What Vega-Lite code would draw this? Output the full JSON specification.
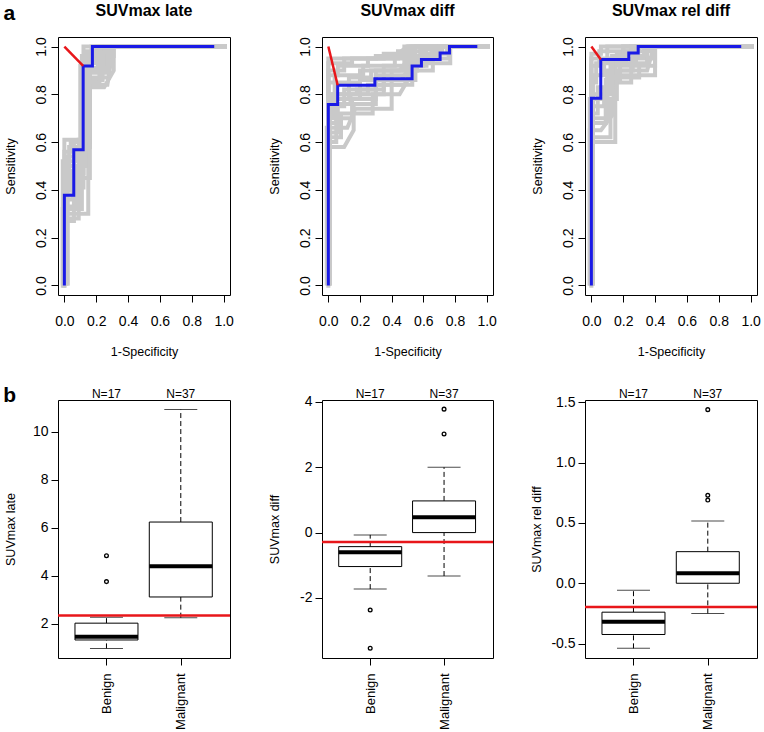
{
"$schema":"https://vega.github.io/schema/vega-lite/v6.json",
"padding":{"left":2,"top":2,"right":4,"bottom":4},
"background":"white",
"datasets":{
"roc_late":[
{"c":"g1","i":0,"x":0,"y":-0.01},{"c":"g1","i":1,"x":0,"y":0.27},{"c":"g1","i":2,"x":0.06,"y":0.27},{"c":"g1","i":3,"x":0.06,"y":0.41},{"c":"g1","i":4,"x":0.12,"y":0.41},{"c":"g1","i":5,"x":0.12,"y":0.86},{"c":"g1","i":6,"x":0.24,"y":0.86},{"c":"g1","i":7,"x":0.24,"y":1},{"c":"g1","i":8,"x":1.02,"y":1},
{"c":"g2","i":0,"x":0,"y":-0.01},{"c":"g2","i":1,"x":0,"y":0.46},{"c":"g2","i":2,"x":0.06,"y":0.46},{"c":"g2","i":3,"x":0.06,"y":0.6},{"c":"g2","i":4,"x":0.16,"y":0.6},{"c":"g2","i":5,"x":0.16,"y":0.95},{"c":"g2","i":6,"x":0.2,"y":0.95},{"c":"g2","i":7,"x":0.2,"y":1},{"c":"g2","i":8,"x":1.02,"y":1},
{"c":"g3","i":0,"x":-0.01,"y":-0.01},{"c":"g3","i":1,"x":-0.01,"y":0.32},{"c":"g3","i":2,"x":0.11,"y":0.32},{"c":"g3","i":3,"x":0.11,"y":0.84},{"c":"g3","i":4,"x":0.27,"y":0.84},{"c":"g3","i":5,"x":0.3,"y":0.97},{"c":"g3","i":6,"x":0.3,"y":1},{"c":"g3","i":7,"x":1.02,"y":1},
{"c":"g4","i":0,"x":0.01,"y":0},{"c":"g4","i":1,"x":0.01,"y":0.54},{"c":"g4","i":2,"x":0.1,"y":0.54},{"c":"g4","i":3,"x":0.1,"y":0.92},{"c":"g4","i":4,"x":0.17,"y":0.92},{"c":"g4","i":5,"x":0.17,"y":1},{"c":"g4","i":6,"x":1.02,"y":1},
{"c":"g5","i":0,"x":0,"y":0},{"c":"g5","i":1,"x":0,"y":0.4},{"c":"g5","i":2,"x":0.03,"y":0.4},{"c":"g5","i":3,"x":0.03,"y":0.58},{"c":"g5","i":4,"x":0.13,"y":0.58},{"c":"g5","i":5,"x":0.13,"y":0.98},{"c":"g5","i":6,"x":0.23,"y":0.98},{"c":"g5","i":7,"x":0.23,"y":1},{"c":"g5","i":8,"x":1.02,"y":1},
{"c":"g6","i":0,"x":0,"y":0},{"c":"g6","i":1,"x":0,"y":0.3},{"c":"g6","i":2,"x":0.15,"y":0.3},{"c":"g6","i":3,"x":0.15,"y":0.87},{"c":"g6","i":4,"x":0.28,"y":0.87},{"c":"g6","i":5,"x":0.28,"y":1},{"c":"g6","i":6,"x":1.02,"y":1},
{"c":"g7","i":0,"x":0.02,"y":0},{"c":"g7","i":1,"x":0.02,"y":0.5},{"c":"g7","i":2,"x":0.14,"y":0.5},{"c":"g7","i":3,"x":0.14,"y":0.9},{"c":"g7","i":4,"x":0.21,"y":0.9},{"c":"g7","i":5,"x":0.21,"y":1},{"c":"g7","i":6,"x":1.02,"y":1},
{"c":"g8","i":0,"x":0,"y":0},{"c":"g8","i":1,"x":0,"y":0.36},{"c":"g8","i":2,"x":0.05,"y":0.36},{"c":"g8","i":3,"x":0.05,"y":0.48},{"c":"g8","i":4,"x":0.11,"y":0.48},{"c":"g8","i":5,"x":0.11,"y":0.96},{"c":"g8","i":6,"x":0.18,"y":0.96},{"c":"g8","i":7,"x":0.18,"y":1},{"c":"g8","i":8,"x":1.02,"y":1},
{"c":"g9","i":0,"x":0,"y":0},{"c":"g9","i":1,"x":0,"y":0.61},{"c":"g9","i":2,"x":0.12,"y":0.61},{"c":"g9","i":3,"x":0.12,"y":0.93},{"c":"g9","i":4,"x":0.3,"y":0.93},{"c":"g9","i":5,"x":0.3,"y":1},{"c":"g9","i":6,"x":1.02,"y":1},
{"c":"g10","i":0,"x":-0.01,"y":0},{"c":"g10","i":1,"x":-0.01,"y":0.52},{"c":"g10","i":2,"x":0.08,"y":0.52},{"c":"g10","i":3,"x":0.08,"y":0.56},{"c":"g10","i":4,"x":0.15,"y":0.56},{"c":"g10","i":5,"x":0.15,"y":0.83},{"c":"g10","i":6,"x":0.25,"y":0.83},{"c":"g10","i":7,"x":0.31,"y":0.9},{"c":"g10","i":8,"x":0.31,"y":1},{"c":"g10","i":9,"x":1.02,"y":1},
{"c":"g11","i":0,"x":0.02,"y":0},{"c":"g11","i":1,"x":0.02,"y":0.28},{"c":"g11","i":2,"x":0.09,"y":0.28},{"c":"g11","i":3,"x":0.09,"y":0.45},{"c":"g11","i":4,"x":0.16,"y":0.45},{"c":"g11","i":5,"x":0.16,"y":0.89},{"c":"g11","i":6,"x":0.26,"y":0.89},{"c":"g11","i":7,"x":0.26,"y":1},{"c":"g11","i":8,"x":1.02,"y":1},
{"c":"g12","i":0,"x":0,"y":0},{"c":"g12","i":1,"x":0,"y":0.56},{"c":"g12","i":2,"x":0.04,"y":0.56},{"c":"g12","i":3,"x":0.04,"y":0.6},{"c":"g12","i":4,"x":0.14,"y":0.6},{"c":"g12","i":5,"x":0.14,"y":0.97},{"c":"g12","i":6,"x":0.25,"y":0.97},{"c":"g12","i":7,"x":0.25,"y":1},{"c":"g12","i":8,"x":1.02,"y":1},
{"c":"g13","i":0,"x":0,"y":0},{"c":"g13","i":1,"x":0,"y":0.33},{"c":"g13","i":2,"x":0.07,"y":0.33},{"c":"g13","i":3,"x":0.07,"y":0.5},{"c":"g13","i":4,"x":0.13,"y":0.5},{"c":"g13","i":5,"x":0.13,"y":0.94},{"c":"g13","i":6,"x":0.3,"y":0.94},{"c":"g13","i":7,"x":0.3,"y":1},{"c":"g13","i":8,"x":1.02,"y":1},
{"c":"g14","i":0,"x":0.01,"y":0},{"c":"g14","i":1,"x":0.01,"y":0.42},{"c":"g14","i":2,"x":0.1,"y":0.42},{"c":"g14","i":3,"x":0.1,"y":0.58},{"c":"g14","i":4,"x":0.16,"y":0.58},{"c":"g14","i":5,"x":0.16,"y":0.85},{"c":"g14","i":6,"x":0.22,"y":0.85},{"c":"g14","i":7,"x":0.22,"y":1},{"c":"g14","i":8,"x":1.02,"y":1},
{"c":"g15","i":0,"x":0,"y":0},{"c":"g15","i":1,"x":0,"y":0.3},{"c":"g15","i":2,"x":0.02,"y":0.3},{"c":"g15","i":3,"x":0.02,"y":0.47},{"c":"g15","i":4,"x":0.12,"y":0.47},{"c":"g15","i":5,"x":0.12,"y":1},{"c":"g15","i":6,"x":1.02,"y":1},
{"c":"g16","i":0,"x":0,"y":0},{"c":"g16","i":1,"x":0,"y":0.38},{"c":"g16","i":2,"x":0.09,"y":0.38},{"c":"g16","i":3,"x":0.09,"y":0.61},{"c":"g16","i":4,"x":0.15,"y":0.61},{"c":"g16","i":5,"x":0.15,"y":0.91},{"c":"g16","i":6,"x":0.27,"y":0.91},{"c":"g16","i":7,"x":0.27,"y":0.96},{"c":"g16","i":8,"x":0.31,"y":0.96},{"c":"g16","i":9,"x":0.31,"y":1},{"c":"g16","i":10,"x":1.02,"y":1},
{"c":"roc","i":0,"x":0,"y":0},{"c":"roc","i":1,"x":0,"y":0.378},{"c":"roc","i":2,"x":0.059,"y":0.378},{"c":"roc","i":3,"x":0.059,"y":0.568},{"c":"roc","i":4,"x":0.118,"y":0.568},{"c":"roc","i":5,"x":0.118,"y":0.919},{"c":"roc","i":6,"x":0.176,"y":0.919},{"c":"roc","i":7,"x":0.176,"y":1},{"c":"roc","i":8,"x":0.941,"y":1},
{"c":"cut","i":0,"x":0,"y":1},{"c":"cut","i":1,"x":0.118,"y":0.919}
],
"roc_diff":[
{"c":"h1","i":0,"x":0,"y":-0.01},{"c":"h1","i":1,"x":0,"y":0.6},{"c":"h1","i":2,"x":0.05,"y":0.6},{"c":"h1","i":3,"x":0.05,"y":0.7},{"c":"h1","i":4,"x":0.15,"y":0.7},{"c":"h1","i":5,"x":0.15,"y":0.78},{"c":"h1","i":6,"x":0.3,"y":0.78},{"c":"h1","i":7,"x":0.3,"y":0.88},{"c":"h1","i":8,"x":0.5,"y":0.88},{"c":"h1","i":9,"x":0.5,"y":1},{"c":"h1","i":10,"x":1.02,"y":1},
{"c":"h2","i":0,"x":0,"y":0},{"c":"h2","i":1,"x":0,"y":0.95},{"c":"h2","i":2,"x":0.48,"y":0.95},{"c":"h2","i":3,"x":0.48,"y":1},{"c":"h2","i":4,"x":1.02,"y":1},
{"c":"h3","i":0,"x":0,"y":0},{"c":"h3","i":1,"x":0,"y":0.75},{"c":"h3","i":2,"x":0.1,"y":0.75},{"c":"h3","i":3,"x":0.1,"y":0.82},{"c":"h3","i":4,"x":0.35,"y":0.82},{"c":"h3","i":5,"x":0.35,"y":0.92},{"c":"h3","i":6,"x":0.6,"y":0.92},{"c":"h3","i":7,"x":0.6,"y":0.97},{"c":"h3","i":8,"x":0.75,"y":0.97},{"c":"h3","i":9,"x":0.75,"y":1},{"c":"h3","i":10,"x":1.02,"y":1},
{"c":"h4","i":0,"x":0,"y":0},{"c":"h4","i":1,"x":0,"y":0.85},{"c":"h4","i":2,"x":0.2,"y":0.85},{"c":"h4","i":3,"x":0.2,"y":0.9},{"c":"h4","i":4,"x":0.45,"y":0.9},{"c":"h4","i":5,"x":0.52,"y":0.96},{"c":"h4","i":6,"x":0.7,"y":0.96},{"c":"h4","i":7,"x":0.7,"y":1},{"c":"h4","i":8,"x":1.02,"y":1},
{"c":"h5","i":0,"x":-0.01,"y":0},{"c":"h5","i":1,"x":-0.01,"y":0.66},{"c":"h5","i":2,"x":0.12,"y":0.66},{"c":"h5","i":3,"x":0.17,"y":0.74},{"c":"h5","i":4,"x":0.4,"y":0.74},{"c":"h5","i":5,"x":0.4,"y":0.86},{"c":"h5","i":6,"x":0.55,"y":0.86},{"c":"h5","i":7,"x":0.55,"y":0.93},{"c":"h5","i":8,"x":0.77,"y":0.93},{"c":"h5","i":9,"x":0.77,"y":1},{"c":"h5","i":10,"x":1.02,"y":1},
{"c":"h6","i":0,"x":0.01,"y":0},{"c":"h6","i":1,"x":0.01,"y":0.8},{"c":"h6","i":2,"x":0.25,"y":0.8},{"c":"h6","i":3,"x":0.25,"y":0.84},{"c":"h6","i":4,"x":0.53,"y":0.84},{"c":"h6","i":5,"x":0.53,"y":0.9},{"c":"h6","i":6,"x":0.66,"y":0.9},{"c":"h6","i":7,"x":0.66,"y":0.98},{"c":"h6","i":8,"x":0.72,"y":0.98},{"c":"h6","i":9,"x":0.72,"y":1},{"c":"h6","i":10,"x":1.02,"y":1},
{"c":"h7","i":0,"x":0,"y":0},{"c":"h7","i":1,"x":0,"y":0.62},{"c":"h7","i":2,"x":0.08,"y":0.62},{"c":"h7","i":3,"x":0.08,"y":0.72},{"c":"h7","i":4,"x":0.28,"y":0.72},{"c":"h7","i":5,"x":0.28,"y":0.8},{"c":"h7","i":6,"x":0.45,"y":0.8},{"c":"h7","i":7,"x":0.52,"y":0.88},{"c":"h7","i":8,"x":0.52,"y":0.94},{"c":"h7","i":9,"x":0.65,"y":0.94},{"c":"h7","i":10,"x":0.65,"y":1},{"c":"h7","i":11,"x":1.02,"y":1},
{"c":"h8","i":0,"x":0,"y":0},{"c":"h8","i":1,"x":0,"y":0.9},{"c":"h8","i":2,"x":0.1,"y":0.9},{"c":"h8","i":3,"x":0.1,"y":0.95},{"c":"h8","i":4,"x":0.35,"y":0.95},{"c":"h8","i":5,"x":0.35,"y":0.97},{"c":"h8","i":6,"x":0.55,"y":0.97},{"c":"h8","i":7,"x":0.55,"y":1},{"c":"h8","i":8,"x":1.02,"y":1},
{"c":"h9","i":0,"x":0,"y":0},{"c":"h9","i":1,"x":0,"y":0.72},{"c":"h9","i":2,"x":0.04,"y":0.72},{"c":"h9","i":3,"x":0.04,"y":0.88},{"c":"h9","i":4,"x":0.22,"y":0.88},{"c":"h9","i":5,"x":0.22,"y":0.92},{"c":"h9","i":6,"x":0.42,"y":0.92},{"c":"h9","i":7,"x":0.42,"y":0.96},{"c":"h9","i":8,"x":0.5,"y":1},{"c":"h9","i":9,"x":1.02,"y":1},
{"c":"h10","i":0,"x":0,"y":0},{"c":"h10","i":1,"x":0,"y":0.58},{"c":"h10","i":2,"x":0.1,"y":0.58},{"c":"h10","i":3,"x":0.16,"y":0.65},{"c":"h10","i":4,"x":0.16,"y":0.76},{"c":"h10","i":5,"x":0.3,"y":0.76},{"c":"h10","i":6,"x":0.3,"y":0.84},{"c":"h10","i":7,"x":0.48,"y":0.84},{"c":"h10","i":8,"x":0.53,"y":0.9},{"c":"h10","i":9,"x":0.53,"y":1},{"c":"h10","i":10,"x":1.02,"y":1},
{"c":"h11","i":0,"x":0,"y":0},{"c":"h11","i":1,"x":0,"y":0.68},{"c":"h11","i":2,"x":0.05,"y":0.68},{"c":"h11","i":3,"x":0.05,"y":0.78},{"c":"h11","i":4,"x":0.2,"y":0.78},{"c":"h11","i":5,"x":0.2,"y":0.86},{"c":"h11","i":6,"x":0.4,"y":0.86},{"c":"h11","i":7,"x":0.4,"y":0.9},{"c":"h11","i":8,"x":0.5,"y":0.9},{"c":"h11","i":9,"x":0.5,"y":0.96},{"c":"h11","i":10,"x":0.6,"y":0.96},{"c":"h11","i":11,"x":0.6,"y":1},{"c":"h11","i":12,"x":1.02,"y":1},
{"c":"h12","i":0,"x":0,"y":0},{"c":"h12","i":1,"x":0,"y":0.93},{"c":"h12","i":2,"x":0.15,"y":0.93},{"c":"h12","i":3,"x":0.15,"y":0.95},{"c":"h12","i":4,"x":0.3,"y":0.95},{"c":"h12","i":5,"x":0.3,"y":0.96},{"c":"h12","i":6,"x":0.5,"y":0.96},{"c":"h12","i":7,"x":0.5,"y":0.98},{"c":"h12","i":8,"x":0.62,"y":0.98},{"c":"h12","i":9,"x":0.62,"y":1},{"c":"h12","i":10,"x":1.02,"y":1},
{"c":"h13","i":0,"x":0,"y":0},{"c":"h13","i":1,"x":0,"y":0.78},{"c":"h13","i":2,"x":0.13,"y":0.78},{"c":"h13","i":3,"x":0.13,"y":0.87},{"c":"h13","i":4,"x":0.27,"y":0.87},{"c":"h13","i":5,"x":0.27,"y":0.9},{"c":"h13","i":6,"x":0.48,"y":0.9},{"c":"h13","i":7,"x":0.48,"y":0.95},{"c":"h13","i":8,"x":0.58,"y":0.95},{"c":"h13","i":9,"x":0.58,"y":0.99},{"c":"h13","i":10,"x":0.7,"y":0.99},{"c":"h13","i":11,"x":0.7,"y":1},{"c":"h13","i":12,"x":1.02,"y":1},
{"c":"h14","i":0,"x":0.01,"y":0},{"c":"h14","i":1,"x":0.01,"y":0.64},{"c":"h14","i":2,"x":0.06,"y":0.64},{"c":"h14","i":3,"x":0.06,"y":0.76},{"c":"h14","i":4,"x":0.14,"y":0.76},{"c":"h14","i":5,"x":0.14,"y":0.8},{"c":"h14","i":6,"x":0.35,"y":0.8},{"c":"h14","i":7,"x":0.35,"y":0.86},{"c":"h14","i":8,"x":0.46,"y":0.86},{"c":"h14","i":9,"x":0.52,"y":0.92},{"c":"h14","i":10,"x":0.62,"y":0.92},{"c":"h14","i":11,"x":0.62,"y":0.95},{"c":"h14","i":12,"x":0.76,"y":0.95},{"c":"h14","i":13,"x":0.76,"y":1},{"c":"h14","i":14,"x":1.02,"y":1},
{"c":"h15","i":0,"x":0,"y":0},{"c":"h15","i":1,"x":0,"y":0.88},{"c":"h15","i":2,"x":0.06,"y":0.88},{"c":"h15","i":3,"x":0.06,"y":0.92},{"c":"h15","i":4,"x":0.25,"y":0.92},{"c":"h15","i":5,"x":0.25,"y":0.95},{"c":"h15","i":6,"x":0.44,"y":0.95},{"c":"h15","i":7,"x":0.44,"y":0.98},{"c":"h15","i":8,"x":0.52,"y":0.98},{"c":"h15","i":9,"x":0.52,"y":1},{"c":"h15","i":10,"x":1.02,"y":1},
{"c":"h16","i":0,"x":0,"y":0},{"c":"h16","i":1,"x":0,"y":0.7},{"c":"h16","i":2,"x":0.03,"y":0.7},{"c":"h16","i":3,"x":0.03,"y":0.8},{"c":"h16","i":4,"x":0.18,"y":0.8},{"c":"h16","i":5,"x":0.18,"y":0.82},{"c":"h16","i":6,"x":0.3,"y":0.82},{"c":"h16","i":7,"x":0.3,"y":0.9},{"c":"h16","i":8,"x":0.56,"y":0.9},{"c":"h16","i":9,"x":0.56,"y":0.95},{"c":"h16","i":10,"x":0.68,"y":0.95},{"c":"h16","i":11,"x":0.68,"y":1},{"c":"h16","i":12,"x":1.02,"y":1},
{"c":"roc","i":0,"x":0,"y":0},{"c":"roc","i":1,"x":0,"y":0.757},{"c":"roc","i":2,"x":0.059,"y":0.757},{"c":"roc","i":3,"x":0.059,"y":0.838},{"c":"roc","i":4,"x":0.294,"y":0.838},{"c":"roc","i":5,"x":0.294,"y":0.865},{"c":"roc","i":6,"x":0.529,"y":0.865},{"c":"roc","i":7,"x":0.529,"y":0.919},{"c":"roc","i":8,"x":0.588,"y":0.919},{"c":"roc","i":9,"x":0.588,"y":0.946},{"c":"roc","i":10,"x":0.706,"y":0.946},{"c":"roc","i":11,"x":0.706,"y":0.973},{"c":"roc","i":12,"x":0.765,"y":0.973},{"c":"roc","i":13,"x":0.765,"y":1},{"c":"roc","i":14,"x":0.941,"y":1},
{"c":"cut","i":0,"x":0,"y":1},{"c":"cut","i":1,"x":0.059,"y":0.838}
],
"roc_rel":[
{"c":"k1","i":0,"x":0,"y":-0.01},{"c":"k1","i":1,"x":0,"y":0.6},{"c":"k1","i":2,"x":0.15,"y":0.6},{"c":"k1","i":3,"x":0.15,"y":0.85},{"c":"k1","i":4,"x":0.25,"y":0.85},{"c":"k1","i":5,"x":0.25,"y":0.95},{"c":"k1","i":6,"x":0.38,"y":0.95},{"c":"k1","i":7,"x":0.38,"y":1},{"c":"k1","i":8,"x":1.02,"y":1},
{"c":"k2","i":0,"x":0,"y":0},{"c":"k2","i":1,"x":0,"y":0.92},{"c":"k2","i":2,"x":0.05,"y":0.92},{"c":"k2","i":3,"x":0.05,"y":0.98},{"c":"k2","i":4,"x":0.3,"y":0.98},{"c":"k2","i":5,"x":0.3,"y":1},{"c":"k2","i":6,"x":1.02,"y":1},
{"c":"k3","i":0,"x":0,"y":0},{"c":"k3","i":1,"x":0,"y":0.7},{"c":"k3","i":2,"x":0.1,"y":0.7},{"c":"k3","i":3,"x":0.1,"y":0.9},{"c":"k3","i":4,"x":0.35,"y":0.9},{"c":"k3","i":5,"x":0.38,"y":0.97},{"c":"k3","i":6,"x":0.38,"y":1},{"c":"k3","i":7,"x":1.02,"y":1},
{"c":"k4","i":0,"x":0.01,"y":0},{"c":"k4","i":1,"x":0.01,"y":0.8},{"c":"k4","i":2,"x":0.12,"y":0.8},{"c":"k4","i":3,"x":0.12,"y":0.95},{"c":"k4","i":4,"x":0.2,"y":0.95},{"c":"k4","i":5,"x":0.2,"y":1},{"c":"k4","i":6,"x":1.02,"y":1},
{"c":"k5","i":0,"x":-0.01,"y":0},{"c":"k5","i":1,"x":-0.01,"y":0.65},{"c":"k5","i":2,"x":0.06,"y":0.65},{"c":"k5","i":3,"x":0.14,"y":0.72},{"c":"k5","i":4,"x":0.14,"y":0.88},{"c":"k5","i":5,"x":0.4,"y":0.88},{"c":"k5","i":6,"x":0.4,"y":1},{"c":"k5","i":7,"x":1.02,"y":1},
{"c":"k6","i":0,"x":0,"y":0},{"c":"k6","i":1,"x":0,"y":0.85},{"c":"k6","i":2,"x":0.03,"y":0.85},{"c":"k6","i":3,"x":0.03,"y":0.93},{"c":"k6","i":4,"x":0.16,"y":0.93},{"c":"k6","i":5,"x":0.16,"y":0.97},{"c":"k6","i":6,"x":0.25,"y":0.97},{"c":"k6","i":7,"x":0.25,"y":1},{"c":"k6","i":8,"x":1.02,"y":1},
{"c":"k7","i":0,"x":0,"y":0},{"c":"k7","i":1,"x":0,"y":0.75},{"c":"k7","i":2,"x":0.08,"y":0.75},{"c":"k7","i":3,"x":0.08,"y":0.82},{"c":"k7","i":4,"x":0.15,"y":0.82},{"c":"k7","i":5,"x":0.15,"y":0.92},{"c":"k7","i":6,"x":0.28,"y":0.92},{"c":"k7","i":7,"x":0.28,"y":1},{"c":"k7","i":8,"x":1.02,"y":1},
{"c":"k8","i":0,"x":0,"y":0},{"c":"k8","i":1,"x":0,"y":0.95},{"c":"k8","i":2,"x":0.1,"y":0.95},{"c":"k8","i":3,"x":0.1,"y":1},{"c":"k8","i":4,"x":1.02,"y":1},
{"c":"k9","i":0,"x":0,"y":0},{"c":"k9","i":1,"x":0,"y":0.62},{"c":"k9","i":2,"x":0.12,"y":0.62},{"c":"k9","i":3,"x":0.12,"y":0.78},{"c":"k9","i":4,"x":0.16,"y":0.78},{"c":"k9","i":5,"x":0.16,"y":0.9},{"c":"k9","i":6,"x":0.26,"y":0.9},{"c":"k9","i":7,"x":0.26,"y":0.96},{"c":"k9","i":8,"x":0.33,"y":0.96},{"c":"k9","i":9,"x":0.33,"y":1},{"c":"k9","i":10,"x":1.02,"y":1},
{"c":"k10","i":0,"x":0,"y":0},{"c":"k10","i":1,"x":0,"y":0.68},{"c":"k10","i":2,"x":0.09,"y":0.68},{"c":"k10","i":3,"x":0.09,"y":0.86},{"c":"k10","i":4,"x":0.18,"y":0.86},{"c":"k10","i":5,"x":0.18,"y":0.93},{"c":"k10","i":6,"x":0.35,"y":0.93},{"c":"k10","i":7,"x":0.35,"y":1},{"c":"k10","i":8,"x":1.02,"y":1},
{"c":"k11","i":0,"x":0.01,"y":0},{"c":"k11","i":1,"x":0.01,"y":0.88},{"c":"k11","i":2,"x":0.08,"y":0.88},{"c":"k11","i":3,"x":0.08,"y":0.94},{"c":"k11","i":4,"x":0.22,"y":0.94},{"c":"k11","i":5,"x":0.22,"y":0.98},{"c":"k11","i":6,"x":0.36,"y":0.98},{"c":"k11","i":7,"x":0.36,"y":1},{"c":"k11","i":8,"x":1.02,"y":1},
{"c":"k12","i":0,"x":0,"y":0},{"c":"k12","i":1,"x":0,"y":0.72},{"c":"k12","i":2,"x":0.04,"y":0.72},{"c":"k12","i":3,"x":0.04,"y":0.83},{"c":"k12","i":4,"x":0.13,"y":0.83},{"c":"k12","i":5,"x":0.13,"y":0.96},{"c":"k12","i":6,"x":0.2,"y":0.96},{"c":"k12","i":7,"x":0.2,"y":1},{"c":"k12","i":8,"x":1.02,"y":1},
{"c":"k13","i":0,"x":0,"y":0},{"c":"k13","i":1,"x":0,"y":0.97},{"c":"k13","i":2,"x":0.06,"y":0.97},{"c":"k13","i":3,"x":0.06,"y":1},{"c":"k13","i":4,"x":1.02,"y":1},
{"c":"k14","i":0,"x":-0.01,"y":0},{"c":"k14","i":1,"x":-0.01,"y":0.78},{"c":"k14","i":2,"x":0.1,"y":0.78},{"c":"k14","i":3,"x":0.1,"y":0.87},{"c":"k14","i":4,"x":0.3,"y":0.87},{"c":"k14","i":5,"x":0.3,"y":0.92},{"c":"k14","i":6,"x":0.4,"y":0.92},{"c":"k14","i":7,"x":0.4,"y":1},{"c":"k14","i":8,"x":1.02,"y":1},
{"c":"roc","i":0,"x":0,"y":0},{"c":"roc","i":1,"x":0,"y":0.784},{"c":"roc","i":2,"x":0.059,"y":0.784},{"c":"roc","i":3,"x":0.059,"y":0.946},{"c":"roc","i":4,"x":0.235,"y":0.946},{"c":"roc","i":5,"x":0.235,"y":0.973},{"c":"roc","i":6,"x":0.294,"y":0.973},{"c":"roc","i":7,"x":0.294,"y":1},{"c":"roc","i":8,"x":0.941,"y":1},
{"c":"cut","i":0,"x":0,"y":1},{"c":"cut","i":1,"x":0.059,"y":0.946}
],
"box":[
{"p":"late","g":1,"n":"N=17","lo":0.98,"q1":1.33,"med":1.46,"q3":2.03,"hi":2.28},
{"p":"late","g":2,"n":"N=37","lo":2.26,"q1":3.12,"med":4.4,"q3":6.24,"hi":10.92},
{"p":"diff","g":1,"n":"N=17","lo":-1.73,"q1":-1.04,"med":-0.6,"q3":-0.43,"hi":-0.07},
{"p":"diff","g":2,"n":"N=37","lo":-1.33,"q1":0.0,"med":0.47,"q3":0.97,"hi":2.0},
{"p":"rel","g":1,"n":"N=17","lo":-0.54,"q1":-0.425,"med":-0.32,"q3":-0.24,"hi":-0.058},
{"p":"rel","g":2,"n":"N=37","lo":-0.25,"q1":0.0,"med":0.083,"q3":0.262,"hi":0.517}
],
"out":[
{"p":"late","g":1,"v":3.76},{"p":"late","g":1,"v":4.84},
{"p":"diff","g":1,"v":-2.37},{"p":"diff","g":1,"v":-3.54},{"p":"diff","g":2,"v":3.02},{"p":"diff","g":2,"v":3.78},
{"p":"rel","g":2,"v":1.44},{"p":"rel","g":2,"v":0.73},{"p":"rel","g":2,"v":0.69}
],
"cut":[{"p":"late","v":2.35},{"p":"diff","v":-0.29},{"p":"rel","v":-0.196}],
"titles":[{"p":"late","t":"SUVmax late"},{"p":"diff","t":"SUVmax diff"},{"p":"rel","t":"SUVmax rel diff"}],
"lab":[{"t":"x"}]
},
"columns":3,
"spacing":{"row":105,"column":92},
"bounds":"flush",
"concat":[
{"width":172,"height":258,
"layer":[
{"data":{"name":"roc_late"},
"encoding":{
"x":{"field":"x","type":"quantitative","scale":{"domain":[-0.04,1.04],"nice":false,"zero":false},"axis":{"values":[0,0.2,0.4,0.6,0.8,1],"format":".1f","title":"1-Specificity","labelPadding":12,"titlePadding":17,"labelOverlap":false}},
"y":{"field":"y","type":"quantitative","scale":{"domain":[-0.04,1.04],"nice":false,"zero":false},"axis":{"values":[0,0.2,0.4,0.6,0.8,1],"format":".1f","title":"Sensitivity","labelAngle":-90,"labelAlign":"center","labelBaseline":"bottom","labelPadding":3,"titlePadding":17,"labelOverlap":false}},
"order":{"field":"i","type":"quantitative"}},
"layer":[
{"transform":[{"filter":"datum.c!='roc'&&datum.c!='cut'"}],"mark":{"type":"line","color":"#c9c9c9","strokeWidth":4,"clip":true},"encoding":{"detail":{"field":"c","type":"nominal"}}},
{"transform":[{"filter":"datum.c=='roc'"}],"mark":{"type":"line","color":"#1a1ae6","strokeWidth":3}},
{"transform":[{"filter":"datum.c=='cut'"}],"mark":{"type":"line","color":"#e8161a","strokeWidth":2.5}}
]},
{"data":{"name":"titles"},"transform":[{"filter":"datum.p=='late'"}],"mark":{"type":"text","fontSize":16,"fontWeight":"bold","align":"center","baseline":"alphabetic","color":"black"},"encoding":{"x":{"datum":0.5,"type":"quantitative","axis":{"values":[0,0.2,0.4,0.6,0.8,1],"format":".1f","title":"1-Specificity","labelPadding":12,"titlePadding":17,"labelOverlap":false}},"y":{"datum":1.126,"type":"quantitative","axis":{"values":[0,0.2,0.4,0.6,0.8,1],"format":".1f","title":"Sensitivity","labelAngle":-90,"labelAlign":"center","labelBaseline":"bottom","labelPadding":3,"titlePadding":17,"labelOverlap":false}},"text":{"field":"t"}}},
{"data":{"name":"lab"},"mark":{"type":"text","text":"a","fontSize":21,"fontWeight":"bold","align":"left","baseline":"alphabetic","color":"black"},"encoding":{"x":{"datum":-0.382,"type":"quantitative","axis":{"values":[0,0.2,0.4,0.6,0.8,1],"format":".1f","title":"1-Specificity","labelPadding":12,"titlePadding":17,"labelOverlap":false}},"y":{"datum":1.111,"type":"quantitative","axis":{"values":[0,0.2,0.4,0.6,0.8,1],"format":".1f","title":"Sensitivity","labelAngle":-90,"labelAlign":"center","labelBaseline":"bottom","labelPadding":3,"titlePadding":17,"labelOverlap":false}}}}
]},
{"width":171,"height":258,
"layer":[
{"data":{"name":"roc_diff"},
"encoding":{
"x":{"field":"x","type":"quantitative","scale":{"domain":[-0.04,1.04],"nice":false,"zero":false},"axis":{"values":[0,0.2,0.4,0.6,0.8,1],"format":".1f","title":"1-Specificity","labelPadding":12,"titlePadding":17,"labelOverlap":false}},
"y":{"field":"y","type":"quantitative","scale":{"domain":[-0.04,1.04],"nice":false,"zero":false},"axis":{"values":[0,0.2,0.4,0.6,0.8,1],"format":".1f","title":"Sensitivity","labelAngle":-90,"labelAlign":"center","labelBaseline":"bottom","labelPadding":3,"titlePadding":17,"labelOverlap":false}},
"order":{"field":"i","type":"quantitative"}},
"layer":[
{"transform":[{"filter":"datum.c!='roc'&&datum.c!='cut'"}],"mark":{"type":"line","color":"#c9c9c9","strokeWidth":4,"clip":true},"encoding":{"detail":{"field":"c","type":"nominal"}}},
{"transform":[{"filter":"datum.c=='roc'"}],"mark":{"type":"line","color":"#1a1ae6","strokeWidth":3}},
{"transform":[{"filter":"datum.c=='cut'"}],"mark":{"type":"line","color":"#e8161a","strokeWidth":2.5}}
]},
{"data":{"name":"titles"},"transform":[{"filter":"datum.p=='diff'"}],"mark":{"type":"text","fontSize":16,"fontWeight":"bold","align":"center","baseline":"alphabetic","color":"black"},"encoding":{"x":{"datum":0.5,"type":"quantitative","axis":{"values":[0,0.2,0.4,0.6,0.8,1],"format":".1f","title":"1-Specificity","labelPadding":12,"titlePadding":17,"labelOverlap":false}},"y":{"datum":1.126,"type":"quantitative","axis":{"values":[0,0.2,0.4,0.6,0.8,1],"format":".1f","title":"Sensitivity","labelAngle":-90,"labelAlign":"center","labelBaseline":"bottom","labelPadding":3,"titlePadding":17,"labelOverlap":false}},"text":{"field":"t"}}}
]},
{"width":172,"height":258,
"layer":[
{"data":{"name":"roc_rel"},
"encoding":{
"x":{"field":"x","type":"quantitative","scale":{"domain":[-0.04,1.04],"nice":false,"zero":false},"axis":{"values":[0,0.2,0.4,0.6,0.8,1],"format":".1f","title":"1-Specificity","labelPadding":12,"titlePadding":17,"labelOverlap":false}},
"y":{"field":"y","type":"quantitative","scale":{"domain":[-0.04,1.04],"nice":false,"zero":false},"axis":{"values":[0,0.2,0.4,0.6,0.8,1],"format":".1f","title":"Sensitivity","labelAngle":-90,"labelAlign":"center","labelBaseline":"bottom","labelPadding":3,"titlePadding":17,"labelOverlap":false}},
"order":{"field":"i","type":"quantitative"}},
"layer":[
{"transform":[{"filter":"datum.c!='roc'&&datum.c!='cut'"}],"mark":{"type":"line","color":"#c9c9c9","strokeWidth":4,"clip":true},"encoding":{"detail":{"field":"c","type":"nominal"}}},
{"transform":[{"filter":"datum.c=='roc'"}],"mark":{"type":"line","color":"#1a1ae6","strokeWidth":3}},
{"transform":[{"filter":"datum.c=='cut'"}],"mark":{"type":"line","color":"#e8161a","strokeWidth":2.5}}
]},
{"data":{"name":"titles"},"transform":[{"filter":"datum.p=='rel'"}],"mark":{"type":"text","fontSize":16,"fontWeight":"bold","align":"center","baseline":"alphabetic","color":"black"},"encoding":{"x":{"datum":0.5,"type":"quantitative","axis":{"values":[0,0.2,0.4,0.6,0.8,1],"format":".1f","title":"1-Specificity","labelPadding":12,"titlePadding":17,"labelOverlap":false}},"y":{"datum":1.126,"type":"quantitative","axis":{"values":[0,0.2,0.4,0.6,0.8,1],"format":".1f","title":"Sensitivity","labelAngle":-90,"labelAlign":"center","labelBaseline":"bottom","labelPadding":3,"titlePadding":17,"labelOverlap":false}},"text":{"field":"t"}}}
]},
{"width":172,"height":258,
"layer":[
{"data":{"name":"box"},"transform":[{"filter":"datum.p=='late'"}],
"encoding":{"x":{"field":"g","type":"quantitative","scale":{"domain":[0.415,2.595],"nice":false,"zero":false},"axis":{"values":[1,2],"labelExpr":"datum.value==1?'Benign':'Malignant'","labelAngle":-90,"labelFontSize":13,"labelPadding":8,"title":null,"labelOverlap":false}}},
"layer":[
{"mark":{"type":"rule","color":"black","strokeDash":[5,3]},"encoding":{"y":{"field":"q3","type":"quantitative","scale":{"domain":[0.58,11.32],"nice":false,"zero":false},"axis":{"values":[2,4,6,8,10],"title":"SUVmax late","labelPadding":3,"titlePadding":15,"labelOverlap":false}},"y2":{"field":"hi"}}},
{"mark":{"type":"rule","color":"black","strokeDash":[5,3]},"encoding":{"y":{"field":"lo","type":"quantitative"},"y2":{"field":"q1"}}},
{"mark":{"type":"tick","orient":"horizontal","color":"black","size":33,"thickness":1},"encoding":{"y":{"field":"hi","type":"quantitative"}}},
{"mark":{"type":"tick","orient":"horizontal","color":"black","size":33,"thickness":1},"encoding":{"y":{"field":"lo","type":"quantitative"}}},
{"mark":{"type":"bar","size":63,"fill":"white","stroke":"black","strokeWidth":1},"encoding":{"y":{"field":"q1","type":"quantitative"},"y2":{"field":"q3"}}},
{"mark":{"type":"tick","orient":"horizontal","color":"black","size":63,"thickness":4,"opacity":1},"encoding":{"y":{"field":"med","type":"quantitative"}}},
{"mark":{"type":"text","fontSize":12,"dy":-2.5,"baseline":"alphabetic","color":"black"},"encoding":{"y":{"datum":11.32},"text":{"field":"n"}}}
]},
{"data":{"name":"out"},"transform":[{"filter":"datum.p=='late'"}],"mark":{"type":"point","shape":"circle","size":14,"filled":false,"stroke":"black","strokeWidth":1.3,"opacity":1},"encoding":{"x":{"field":"g","type":"quantitative"},"y":{"field":"v","type":"quantitative"}}},
{"data":{"name":"cut"},"transform":[{"filter":"datum.p=='late'"}],"mark":{"type":"rule","color":"#e8161a","strokeWidth":2.5},"encoding":{"y":{"field":"v","type":"quantitative"}}},
{"data":{"name":"lab"},"mark":{"type":"text","text":"b","fontSize":21,"fontWeight":"bold","align":"left","baseline":"alphabetic","color":"black"},"encoding":{"x":{"datum":-0.389},"y":{"datum":11.237}}}
]},
{"width":171,"height":258,
"layer":[
{"data":{"name":"box"},"transform":[{"filter":"datum.p=='diff'"}],
"encoding":{"x":{"field":"g","type":"quantitative","scale":{"domain":[0.415,2.595],"nice":false,"zero":false},"axis":{"values":[1,2],"labelExpr":"datum.value==1?'Benign':'Malignant'","labelAngle":-90,"labelFontSize":13,"labelPadding":8,"title":null,"labelOverlap":false}}},
"layer":[
{"mark":{"type":"rule","color":"black","strokeDash":[5,3]},"encoding":{"y":{"field":"q3","type":"quantitative","scale":{"domain":[-3.84,4.06],"nice":false,"zero":false},"axis":{"values":[-2,0,2,4],"labelExpr":"datum.value<0?'-'+format(-datum.value,'d'):format(datum.value,'d')","title":"SUVmax diff","labelPadding":3,"titlePadding":18.5,"labelOverlap":false}},"y2":{"field":"hi"}}},
{"mark":{"type":"rule","color":"black","strokeDash":[5,3]},"encoding":{"y":{"field":"lo","type":"quantitative"},"y2":{"field":"q1"}}},
{"mark":{"type":"tick","orient":"horizontal","color":"black","size":33,"thickness":1},"encoding":{"y":{"field":"hi","type":"quantitative"}}},
{"mark":{"type":"tick","orient":"horizontal","color":"black","size":33,"thickness":1},"encoding":{"y":{"field":"lo","type":"quantitative"}}},
{"mark":{"type":"bar","size":63,"fill":"white","stroke":"black","strokeWidth":1},"encoding":{"y":{"field":"q1","type":"quantitative"},"y2":{"field":"q3"}}},
{"mark":{"type":"tick","orient":"horizontal","color":"black","size":63,"thickness":4,"opacity":1},"encoding":{"y":{"field":"med","type":"quantitative"}}},
{"mark":{"type":"text","fontSize":12,"dy":-2.5,"baseline":"alphabetic","color":"black"},"encoding":{"y":{"datum":4.06},"text":{"field":"n"}}}
]},
{"data":{"name":"out"},"transform":[{"filter":"datum.p=='diff'"}],"mark":{"type":"point","shape":"circle","size":14,"filled":false,"stroke":"black","strokeWidth":1.3,"opacity":1},"encoding":{"x":{"field":"g","type":"quantitative"},"y":{"field":"v","type":"quantitative"}}},
{"data":{"name":"cut"},"transform":[{"filter":"datum.p=='diff'"}],"mark":{"type":"rule","color":"#e8161a","strokeWidth":2.5},"encoding":{"y":{"field":"v","type":"quantitative"}}}
]},
{"width":172,"height":258,
"layer":[
{"data":{"name":"box"},"transform":[{"filter":"datum.p=='rel'"}],
"encoding":{"x":{"field":"g","type":"quantitative","scale":{"domain":[0.415,2.595],"nice":false,"zero":false},"axis":{"values":[1,2],"labelExpr":"datum.value==1?'Benign':'Malignant'","labelAngle":-90,"labelFontSize":13,"labelPadding":8,"title":null,"labelOverlap":false}}},
"layer":[
{"mark":{"type":"rule","color":"black","strokeDash":[5,3]},"encoding":{"y":{"field":"q3","type":"quantitative","scale":{"domain":[-0.62,1.52],"nice":false,"zero":false},"axis":{"values":[-0.5,0,0.5,1,1.5],"labelExpr":"datum.value<0?'-'+format(-datum.value,'.1f'):format(datum.value,'.1f')","title":"SUVmax rel diff","labelPadding":3,"titlePadding":7,"labelOverlap":false}},"y2":{"field":"hi"}}},
{"mark":{"type":"rule","color":"black","strokeDash":[5,3]},"encoding":{"y":{"field":"lo","type":"quantitative"},"y2":{"field":"q1"}}},
{"mark":{"type":"tick","orient":"horizontal","color":"black","size":33,"thickness":1},"encoding":{"y":{"field":"hi","type":"quantitative"}}},
{"mark":{"type":"tick","orient":"horizontal","color":"black","size":33,"thickness":1},"encoding":{"y":{"field":"lo","type":"quantitative"}}},
{"mark":{"type":"bar","size":63,"fill":"white","stroke":"black","strokeWidth":1},"encoding":{"y":{"field":"q1","type":"quantitative"},"y2":{"field":"q3"}}},
{"mark":{"type":"tick","orient":"horizontal","color":"black","size":63,"thickness":4,"opacity":1},"encoding":{"y":{"field":"med","type":"quantitative"}}},
{"mark":{"type":"text","fontSize":12,"dy":-2.5,"baseline":"alphabetic","color":"black"},"encoding":{"y":{"datum":1.52},"text":{"field":"n"}}}
]},
{"data":{"name":"out"},"transform":[{"filter":"datum.p=='rel'"}],"mark":{"type":"point","shape":"circle","size":14,"filled":false,"stroke":"black","strokeWidth":1.3,"opacity":1},"encoding":{"x":{"field":"g","type":"quantitative"},"y":{"field":"v","type":"quantitative"}}},
{"data":{"name":"cut"},"transform":[{"filter":"datum.p=='rel'"}],"mark":{"type":"rule","color":"#e8161a","strokeWidth":2.5},"encoding":{"y":{"field":"v","type":"quantitative"}}}
]}
],
"config":{
"font":"Liberation Sans",
"view":{"stroke":"black","strokeWidth":1},
"axis":{"domain":false,"grid":false,"tickColor":"black","tickSize":7,"labelColor":"black","labelFontSize":14,"labelFont":"Liberation Sans","titleFont":"Liberation Sans","titleFontSize":12.5,"titleFontWeight":"normal","titleColor":"black","labelFlush":false,"labelOverlap":false},
"text":{"font":"Liberation Sans"}
}
}
